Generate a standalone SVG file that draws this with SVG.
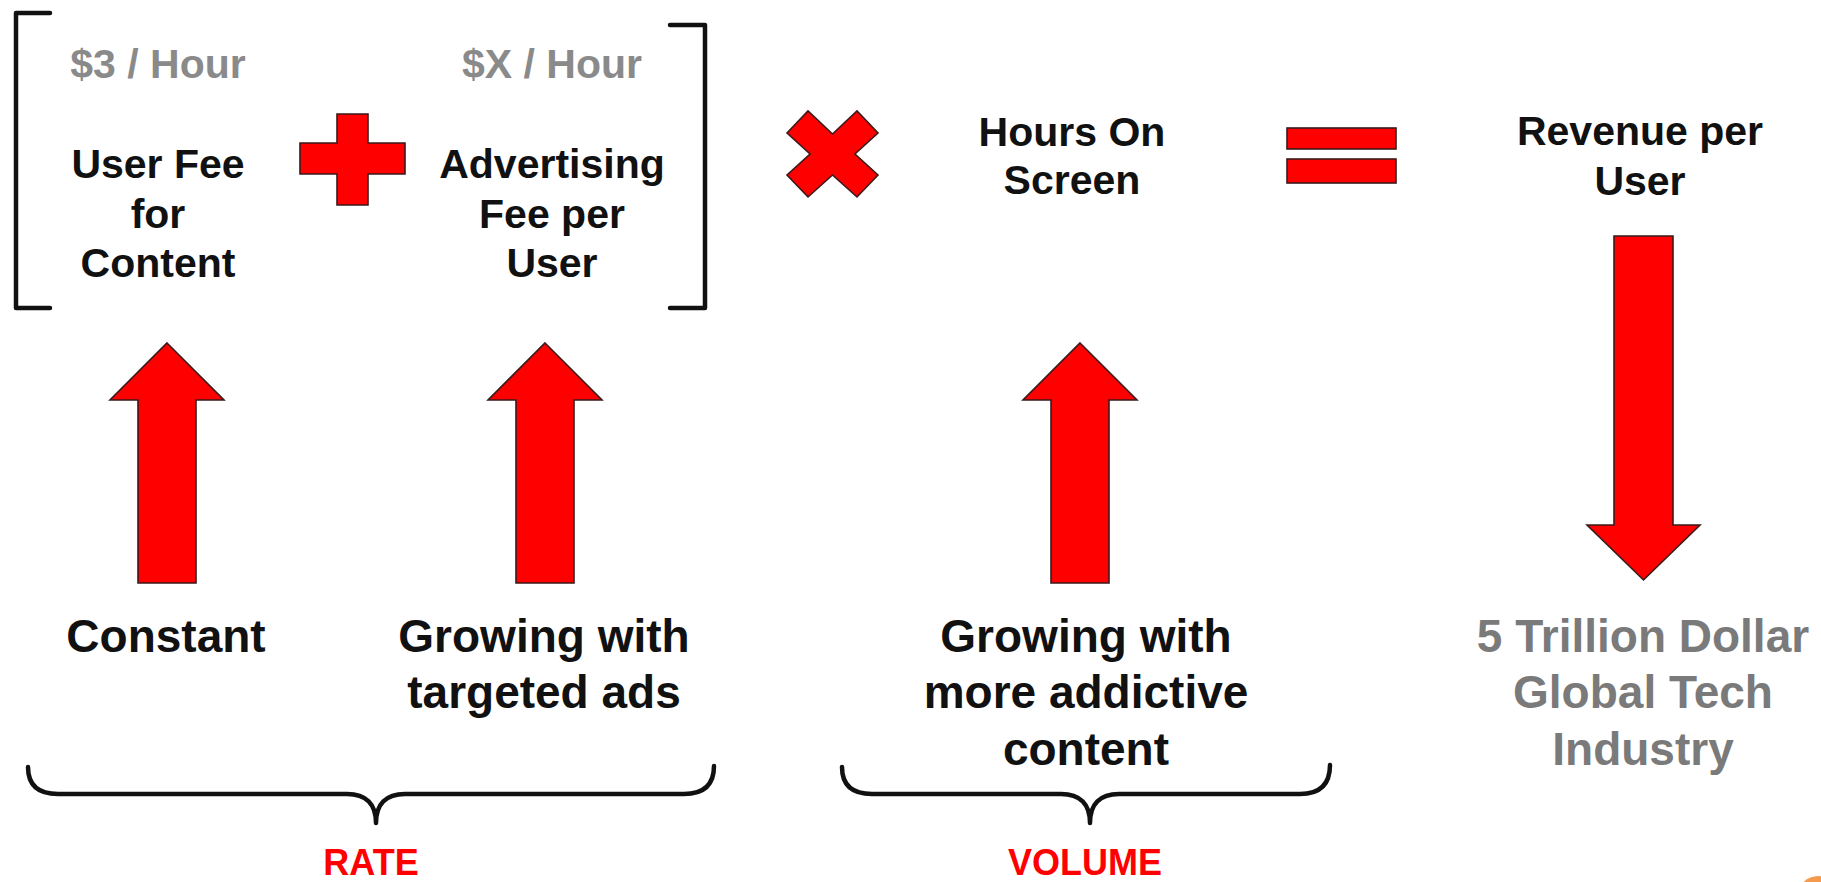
<svg xmlns="http://www.w3.org/2000/svg" width="1821" height="882" viewBox="0 0 1821 882">
  <defs>
    <style>
      .t { font-family: "Liberation Sans", Arial, Helvetica, sans-serif; font-weight: bold; text-anchor: middle; }
      .top { font-size: 41px; fill: #111; }
      .topg { font-size: 41px; fill: #8a8a8a; }
      .low { font-size: 46px; fill: #111; }
      .lowg { font-size: 46px; fill: #7a7a7a; }
      .lab { font-size: 36px; fill: #ff0000; }
      .red { fill: #ff0000; stroke: #3a1a1a; stroke-width: 1.6; stroke-linejoin: miter; }
      .ink { fill: none; stroke: #111; stroke-width: 4.5; stroke-linecap: round; stroke-linejoin: round; }
    </style>
    <!-- block arrow pointing up, tip at origin -->
    <path id="upArrow" d="M0,0 L57,57 L29,57 L29,240 L-29,240 L-29,57 L-57,57 Z"/>
    <clipPath id="frame"><rect x="0" y="0" width="1821" height="882"/></clipPath>
  </defs>

  <rect width="1821" height="882" fill="#ffffff"/>

  <!-- square brackets around the rate terms -->
  <g id="brackets">
    <path class="ink" d="M50,13 L16,13 L16,308 L50,308"/>
    <path class="ink" d="M670,25 L705,25 L705,308 L670,308"/>
  </g>

  <!-- user fee term -->
  <g id="user-fee">
    <text class="t topg" x="158" y="78">$3 / Hour</text>
    <text class="t top" x="158" y="178">User Fee</text>
    <text class="t top" x="158" y="228">for</text>
    <text class="t top" x="158" y="277">Content</text>
  </g>

  <!-- plus operator -->
  <g id="op-plus">
    <path class="red" d="M337,114 L368,114 L368,143 L405,143 L405,174 L368,174 L368,205 L337,205 L337,174 L300,174 L300,143 L337,143 Z"/>
  </g>

  <!-- advertising fee term -->
  <g id="ad-fee">
    <text class="t topg" x="552" y="78">$X / Hour</text>
    <text class="t top" x="552" y="178">Advertising</text>
    <text class="t top" x="552" y="228">Fee per</text>
    <text class="t top" x="552" y="277">User</text>
  </g>

  <!-- multiply operator -->
  <g id="op-times">
    <path class="red" d="M787,133 L808,111 L832.5,134 L857,111 L878,133 L855,154 L878,175 L857,197 L832.5,175 L808,197 L787,175 L810,154 Z"/>
  </g>

  <!-- hours on screen term -->
  <g id="hours">
    <text class="t top" x="1072" y="146">Hours On</text>
    <text class="t top" x="1072" y="194">Screen</text>
  </g>

  <!-- equals operator -->
  <g id="op-equals">
    <rect class="red" x="1287" y="128" width="109" height="21"/>
    <rect class="red" x="1287" y="159" width="109" height="24"/>
  </g>

  <!-- result term -->
  <g id="revenue">
    <text class="t top" x="1640" y="145">Revenue per</text>
    <text class="t top" x="1640" y="195">User</text>
  </g>

  <!-- trend arrows -->
  <g id="connectors">
    <use href="#upArrow" class="red" x="167" y="343"/>
    <use href="#upArrow" class="red" x="545" y="343"/>
    <use href="#upArrow" class="red" x="1080" y="343"/>
    <path class="red" d="M1614,236 L1673,236 L1673,525 L1700,525 L1643.5,580 L1587,525 L1614,525 Z"/>
  </g>

  <!-- trend captions -->
  <g id="constant">
    <text class="t low" x="166" y="652">Constant</text>
  </g>
  <g id="targeted">
    <text class="t low" x="544" y="652">Growing with</text>
    <text class="t low" x="544" y="708">targeted ads</text>
  </g>
  <g id="addictive">
    <text class="t low" x="1086" y="652">Growing with</text>
    <text class="t low" x="1086" y="708">more addictive</text>
    <text class="t low" x="1086" y="765">content</text>
  </g>
  <g id="industry">
    <text class="t lowg" x="1643" y="652">5 Trillion Dollar</text>
    <text class="t lowg" x="1643" y="708">Global Tech</text>
    <text class="t lowg" x="1643" y="765">Industry</text>
  </g>

  <!-- curly braces grouping the captions -->
  <g id="rate">
    <path class="ink" d="M28,767 C28,785 38,794 58,794 L347,794 C366,794 376,804 376,823 C376,804 386,794 405,794 L684,794 C704,794 714,785 714,766"/>
    <text class="t lab" x="371" y="875">RATE</text>
  </g>
  <g id="volume">
    <path class="ink" d="M842,767 C842,785 852,794 872,794 L1061,794 C1080,794 1090,804 1090,823 C1090,804 1100,794 1119,794 L1300,794 C1320,794 1330,784 1330,765"/>
    <text class="t lab" x="1085" y="875">VOLUME</text>
  </g>

  <!-- corner mark -->
  <g id="corner-mark" clip-path="url(#frame)">
    <circle cx="1818" cy="896" r="20" fill="#f39a4e"/>
  </g>
</svg>
